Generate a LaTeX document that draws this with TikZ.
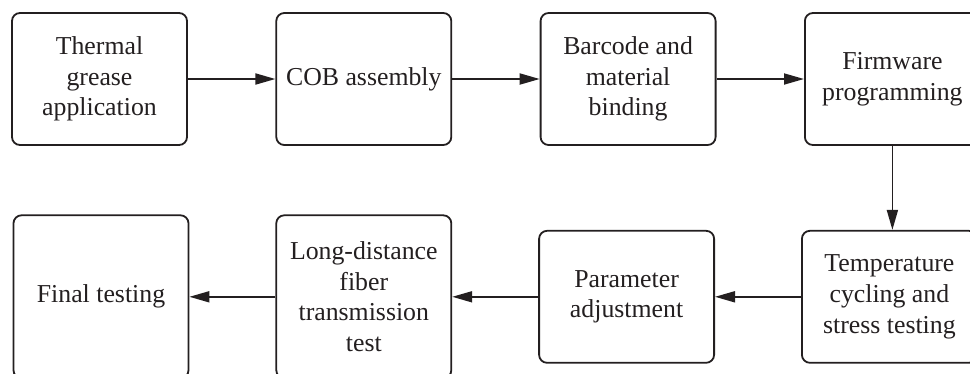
\documentclass[tikz,border=0pt]{standalone}
\usepackage{fontspec}
\setmainfont{Liberation Serif}
\usetikzlibrary{arrows.meta, positioning}
\definecolor{ink}{RGB}{35,31,32}

\begin{document}
\begin{tikzpicture}[
			x=1pt, y=-1pt,
			node distance=87.5pt,
			stage/.style={draw=ink, text=ink, rounded corners=8pt, line width=1.8pt, align=center, font=\fontsize{25.8}{30.7}\selectfont, minimum width=175pt, minimum height=132pt, inner sep=0pt},
			tall/.style={stage, minimum height=163pt},
			arrow/.style={-{Triangle[length=20pt, width=11pt]}, draw=ink, line width=1.8pt}
		]
		\clip (0,0) rectangle (970,373);
		\node[stage] (s1) at (99.5,79) {Thermal\\grease\\application};
		\node[stage, right=of s1] (s2) {COB assembly};
		\node[stage, right=of s2] (s3) {Barcode and\\material\\binding};
		\node[stage, right=of s3] (s4) {Firmware\\programming};
		\node[stage, below=84pt of s4, xshift=-3pt] (s5) {Temperature\\cycling and\\stress testing};
		\node[stage, left=86pt of s5] (s6) {Parameter\\adjustment};
		\node[tall, left=86pt of s6] (s7) {Long-distance\\fiber\\transmission\\test};
		\node[tall, left=86pt of s7] (s8) {Final testing};
		\draw[arrow] (s1) -- (s2);
		\draw[arrow] (s2) -- (s3);
		\draw[arrow] (s3) -- (s4);
		\draw[arrow] (s4.south) -- (s4.south |- s5.north);
		\draw[arrow] (s5) -- (s6);
		\draw[arrow] (s6) -- (s7);
		\draw[arrow] (s7) -- (s8);
	\end{tikzpicture}
\end{document}
